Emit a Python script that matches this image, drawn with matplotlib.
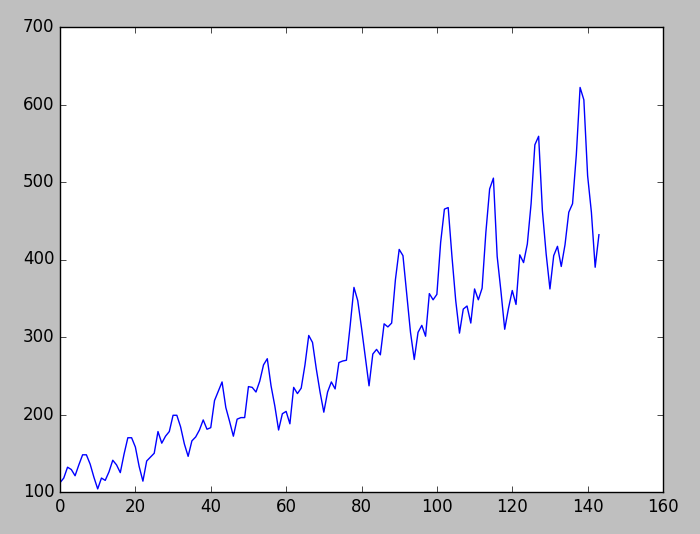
import matplotlib
matplotlib.use("Agg")
import matplotlib.pyplot as plt
import numpy as np

plt.style.use('classic')

passengers = [
    112,118,132,129,121,135,148,148,136,119,104,118,
    115,126,141,135,125,149,170,170,158,133,114,140,
    145,150,178,163,172,178,199,199,184,162,146,166,
    171,180,193,181,183,218,230,242,209,191,172,194,
    196,196,236,235,229,243,264,272,237,211,180,201,
    204,188,235,227,234,264,302,293,259,229,203,229,
    242,233,267,269,270,315,364,347,312,274,237,278,
    284,277,317,313,318,374,413,405,355,306,271,306,
    315,301,356,348,355,422,465,467,404,347,305,336,
    340,318,362,348,363,435,491,505,404,359,310,337,
    360,342,406,396,420,472,548,559,463,407,362,405,
    417,391,419,461,472,535,622,606,508,461,390,432,
]

fig = plt.figure(figsize=(7, 5.34), dpi=100, facecolor='0.75')
ax = fig.add_axes([60/700, 1-492/534, (663-60)/700, (492-27)/534])
ax.plot(np.arange(len(passengers)), passengers)
ax.set_xlim(0, 160)
ax.set_ylim(100, 700)
fig.savefig("out.png", dpi=100, facecolor=fig.get_facecolor())
